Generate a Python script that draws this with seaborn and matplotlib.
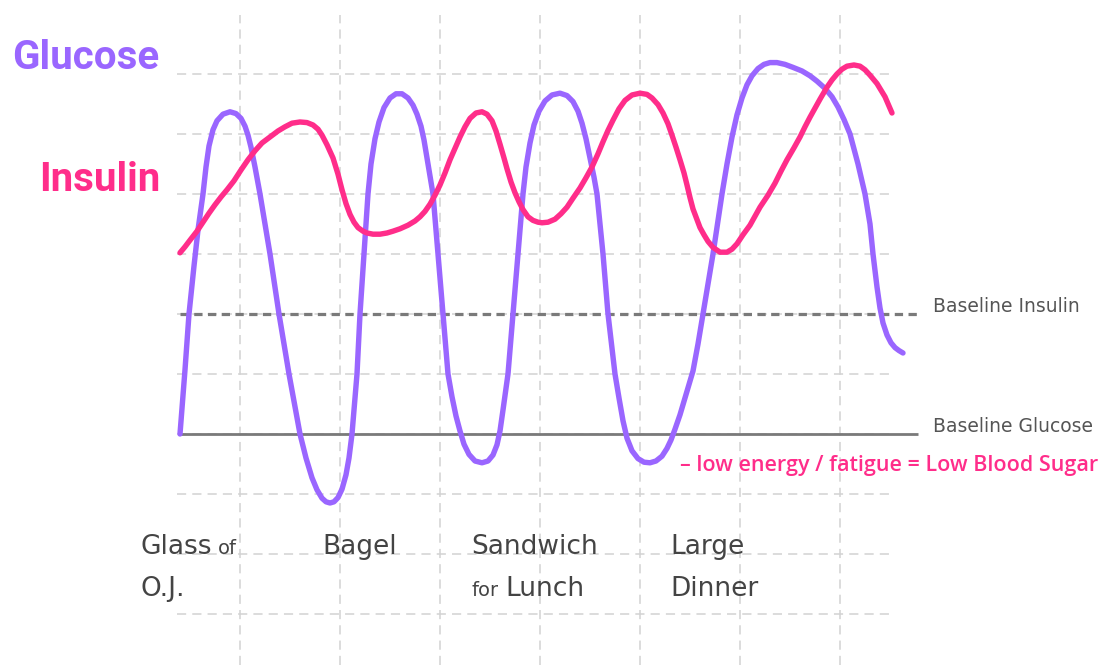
import numpy as np
import pandas as pd
import matplotlib.pyplot as plt
import seaborn as sns
from matplotlib import font_manager

# time axis (grid units, 0 = glass of O.J.) and level (0 = baseline glucose)
glucose_t = [0.00, 0.05, 0.09, 0.14, 0.18, 0.23, 0.26, 0.29, 0.33, 0.37, 0.43, 0.50, 0.56, 0.61, 0.65, 0.68, 0.71, 0.75, 0.80,
             0.90, 0.99, 1.09, 1.20, 1.26, 1.32, 1.37, 1.42, 1.46, 1.50, 1.54, 1.58, 1.62, 1.66, 1.69, 1.72,
             1.77, 1.80, 1.84, 1.88, 1.91, 1.95, 1.99, 2.04, 2.10, 2.16, 2.22, 2.28, 2.33, 2.37, 2.41, 2.44, 2.47, 2.50, 2.53,
             2.58, 2.63, 2.68, 2.72, 2.76, 2.80, 2.84, 2.89, 2.95, 3.02, 3.08, 3.13, 3.17, 3.20, 3.23, 3.28,
             3.33, 3.38, 3.43, 3.46, 3.50, 3.54, 3.59, 3.65, 3.72, 3.80, 3.87, 3.93, 3.98, 4.02, 4.06, 4.10, 4.14, 4.17,
             4.23, 4.28, 4.35, 4.39, 4.43, 4.47, 4.52, 4.58, 4.64, 4.70, 4.76, 4.82, 4.87, 4.91, 4.95, 5.00, 5.05, 5.09, 5.13,
             5.18, 5.23, 5.33, 5.42, 5.47, 5.52, 5.57, 5.62, 5.67, 5.72, 5.78, 5.84, 5.90, 5.97, 6.05, 6.13, 6.22, 6.30,
             6.37, 6.45, 6.52, 6.58, 6.64, 6.70,
             6.78, 6.85, 6.90, 6.93, 6.97, 7.00, 7.03, 7.07, 7.11, 7.15, 7.19, 7.23]
glucose_lvl = [0.00, 1.07, 2.00, 2.80, 3.40, 4.00, 4.45, 4.80, 5.07, 5.22, 5.33, 5.37, 5.34, 5.26, 5.13, 4.98, 4.78, 4.45, 4.00,
               3.00, 2.00, 1.00, 0.00, -0.40, -0.73, -0.93, -1.07, -1.13, -1.15, -1.13, -1.06, -0.92, -0.68, -0.40, 0.00,
               1.00, 2.00, 3.00, 4.00, 4.50, 4.92, 5.20, 5.44, 5.60, 5.67, 5.67, 5.60, 5.48, 5.33, 5.13, 4.90, 4.60, 4.30, 4.00,
               3.00, 2.00, 1.00, 0.62, 0.30, 0.05, -0.17, -0.34, -0.45, -0.48, -0.45, -0.35, -0.18, 0.05, 0.40, 1.00,
               2.00, 3.00, 4.00, 4.45, 4.85, 5.15, 5.38, 5.55, 5.65, 5.68, 5.64, 5.54, 5.38, 5.18, 4.92, 4.60, 4.28, 4.00,
               3.00, 2.00, 1.00, 0.60, 0.22, -0.07, -0.28, -0.41, -0.47, -0.48, -0.45, -0.37, -0.24, -0.10, 0.08, 0.32, 0.60, 0.82, 1.05,
               1.50, 2.00, 3.00, 4.00, 4.50, 4.95, 5.32, 5.60, 5.82, 5.97, 6.09, 6.16, 6.19, 6.19, 6.16, 6.11, 6.05, 5.97,
               5.88, 5.76, 5.62, 5.45, 5.24, 5.00,
               4.50, 4.00, 3.50, 3.00, 2.45, 2.10, 1.85, 1.65, 1.52, 1.44, 1.39, 1.35]

insulin_t = [0.00, 0.05, 0.10, 0.17, 0.23, 0.29, 0.35, 0.41, 0.47, 0.54, 0.61, 0.68, 0.75, 0.82,
             0.90, 0.98, 1.05, 1.12, 1.20, 1.27, 1.33, 1.38, 1.42, 1.47, 1.53, 1.58, 1.62, 1.66,
             1.70, 1.74, 1.78, 1.83, 1.87, 1.93, 2.00, 2.07, 2.13, 2.20, 2.28, 2.35, 2.40, 2.45,
             2.50, 2.55, 2.60, 2.65, 2.70, 2.75, 2.80, 2.85, 2.90, 2.96, 3.02, 3.07, 3.12, 3.16,
             3.20, 3.24, 3.27, 3.31, 3.35, 3.39, 3.43, 3.48, 3.53, 3.58, 3.62, 3.68, 3.75, 3.81,
             3.87, 3.93, 4.00, 4.06, 4.12, 4.18, 4.23, 4.28, 4.33, 4.39, 4.45, 4.52, 4.60, 4.67,
             4.72, 4.78, 4.83, 4.88, 4.92, 4.96, 5.00, 5.04, 5.07, 5.10, 5.13, 5.17, 5.20, 5.24,
             5.28, 5.33, 5.40, 5.47, 5.52, 5.57, 5.63, 5.70, 5.75, 5.80, 5.88, 5.95, 6.01, 6.07,
             6.14, 6.20, 6.25, 6.30, 6.35, 6.40, 6.47, 6.52, 6.57, 6.62, 6.67, 6.74, 6.80, 6.85,
             6.90, 6.97, 7.05, 7.12]
insulin_lvl = [3.02, 3.12, 3.23, 3.38, 3.53, 3.68, 3.82, 3.95, 4.07, 4.22, 4.40, 4.57, 4.72, 4.85,
               4.95, 5.05, 5.12, 5.18, 5.20, 5.19, 5.15, 5.08, 4.98, 4.82, 4.60, 4.33, 4.07, 3.84,
               3.66, 3.53, 3.44, 3.38, 3.35, 3.33, 3.33, 3.35, 3.38, 3.42, 3.48, 3.55, 3.62, 3.71,
               3.83, 3.98, 4.15, 4.35, 4.57, 4.76, 4.95, 5.12, 5.26, 5.35, 5.37, 5.33, 5.22, 5.05,
               4.83, 4.60, 4.42, 4.20, 4.02, 3.87, 3.74, 3.62, 3.56, 3.53, 3.52, 3.53, 3.58, 3.67,
               3.78, 3.93, 4.10, 4.27, 4.45, 4.67, 4.87, 5.06, 5.23, 5.42, 5.56, 5.65, 5.68, 5.66,
               5.60, 5.49, 5.35, 5.17, 4.98, 4.78, 4.57, 4.35, 4.15, 3.94, 3.75, 3.57, 3.44, 3.32,
               3.21, 3.11, 3.03, 3.03, 3.08, 3.17, 3.32, 3.48, 3.63, 3.78, 3.98, 4.18, 4.38, 4.57,
               4.77, 4.95, 5.12, 5.28, 5.43, 5.58, 5.78, 5.90, 6.00, 6.08, 6.13, 6.15, 6.13, 6.07,
               5.98, 5.84, 5.62, 5.35]

baseline_insulin = 2.0
baseline_glucose = 0.0
grid_x = [0.6, 1.6, 2.6, 3.6, 4.6, 5.6, 6.6]
grid_y = [6, 5, 4, 3, 2, 1, 0, -1, -2, -3]

purple = '#9a66ff'
pink = '#ff2d8a'
gray = '#444444'

sns.set_style('white')
names = {f.name for f in font_manager.fontManager.ttflist}
title_font = 'Roboto' if 'Roboto' in names else 'DejaVu Sans'
plt.rcParams['font.family'] = ['DejaVu Sans']

fig = plt.figure(figsize=(11.08, 6.65), dpi=100)
ax = fig.add_axes([0, 0, 1, 1])
ax.set_xlim(-1.8, 9.28)
ax.set_ylim(-3.85, 7.233)
ax.axis('off')

# dashed light grid
ax.vlines(grid_x, -3.85, 6.98, colors='#d2d2d2', linestyles=(0, (6, 4)), lw=1.1, zorder=0)
ax.hlines(grid_y, -0.03, 7.13, colors='#d2d2d2', linestyles=(0, (6, 4)), lw=1.1, zorder=0)

# baselines
ax.hlines(baseline_insulin, 0, 7.38, colors='#7a7a7a', linestyles=(0, (2.6, 1.7)), lw=2.3, zorder=1)
ax.hlines(baseline_glucose, 0, 7.38, colors='#7a7a7a', lw=2.0, zorder=1)

glucose = pd.DataFrame({'t': glucose_t, 'level': glucose_lvl})
insulin = pd.DataFrame({'t': insulin_t, 'level': insulin_lvl})
sns.lineplot(data=insulin, x='t', y='level', sort=False, estimator=None, color=pink, lw=3.9,
             ax=ax, zorder=3, solid_capstyle='round', solid_joinstyle='round')
sns.lineplot(data=glucose, x='t', y='level', sort=False, estimator=None, color=purple, lw=3.9,
             ax=ax, zorder=2, solid_capstyle='round', solid_joinstyle='round')

ax.text(-1.68, 6.27, 'Glucose', color=purple, fontsize=29, family=title_font, weight='bold',
        va='center', ha='left')
ax.text(-0.2, 4.23, 'Insulin', color=pink, fontsize=29, family=title_font, weight='bold',
        va='center', ha='right')

ax.text(7.53, 2.13, 'Baseline Insulin', color='#555555', fontsize=13.5, va='center', ha='left')
ax.text(7.53, 0.12, 'Baseline Glucose', color='#555555', fontsize=13.5, va='center', ha='left')
ax.text(5.0, -0.53, '– low energy / fatigue = Low Blood Sugar', color=pink, fontsize=15.5,
        va='center', ha='left', family='Open Sans', weight='semibold')

kw = dict(color=gray, va='baseline', ha='left')
ax.text(-0.4, -2.0, 'Glass', fontsize=19, **kw)
ax.text(0.38, -2.0, 'of', fontsize=14, **kw)
ax.text(-0.4, -2.7, 'O.J.', fontsize=19, **kw)
ax.text(1.42, -2.0, 'Bagel', fontsize=19, **kw)
ax.text(2.91, -2.0, 'Sandwich', fontsize=19, **kw)
ax.text(2.91, -2.7, 'for', fontsize=14, **kw)
ax.text(3.25, -2.7, 'Lunch', fontsize=19, **kw)
ax.text(4.9, -2.0, 'Large', fontsize=19, **kw)
ax.text(4.9, -2.7, 'Dinner', fontsize=19, **kw)

fig.savefig('out.png', dpi=100)
